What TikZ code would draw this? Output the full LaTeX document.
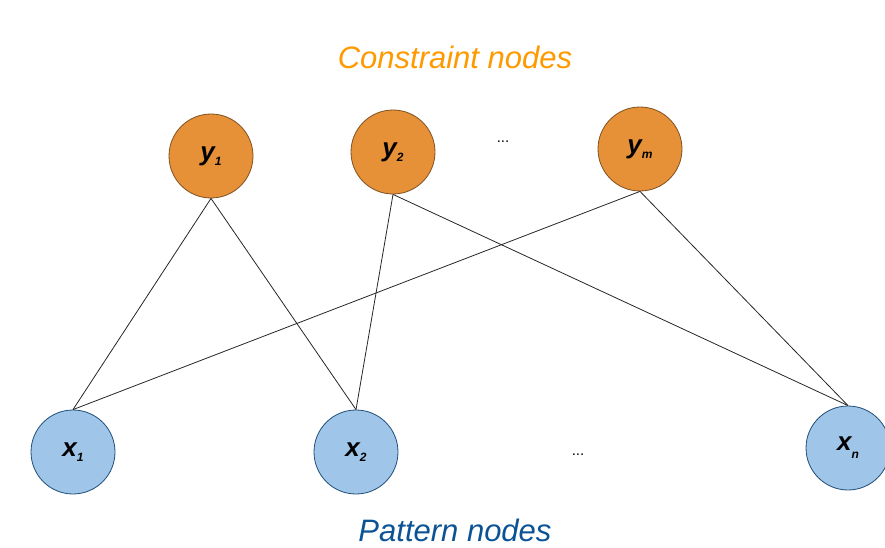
\documentclass[tikz,border=0pt]{standalone}
\usepackage{fontspec}
\setmainfont{Liberation Sans}
\definecolor{cfill}{HTML}{E69138}
\definecolor{cdraw}{HTML}{7F5020}
\definecolor{pfill}{HTML}{9FC5E8}
\definecolor{pdraw}{HTML}{1F4E79}
\definecolor{ctitle}{HTML}{FF9900}
\definecolor{ptitle}{HTML}{0B5394}
\newcommand{\subsc}[2][-5pt]{\raisebox{#1}{\fontsize{12}{12}\selectfont #2}}
\begin{document}
\begin{tikzpicture}[x=1pt,y=-1pt,
  cnode/.style={circle,draw=cdraw,fill=cfill,line width=0.8pt,minimum size=84pt,inner sep=0pt,
    font=\fontsize{26}{28}\selectfont\bfseries\itshape},
  pnode/.style={circle,draw=pdraw,fill=pfill,line width=0.8pt,minimum size=84pt,inner sep=0pt,
    font=\fontsize{26}{28}\selectfont\bfseries\itshape},
  link/.style={draw=black!85,line width=0.8pt},
  title/.style={font=\fontsize{31}{33}\selectfont\itshape,inner sep=1pt,text depth=0pt},
  dots/.style={font=\fontsize{15}{16}\selectfont}]
\useasboundingbox (0,0) rectangle (885,548);
\node[title,text=ctitle] (ct) at (455,57) {Constraint nodes};
\node[title,text=ptitle,anchor=base] (pt) at (455,541) {Pattern nodes};
\node[cnode] (y1) at (211,156) {y\subsc{1}};
\node[cnode] (y2) at (393,152) {y\subsc{2}};
\node[cnode] (ym) at (640,149) {y\subsc{m}};
\node[pnode] (x1) at (73,452) {x\subsc{1}};
\node[pnode] (x2) at (356,452) {x\subsc{2}};
\node[pnode] (xn) at (848,448) {x\subsc[-8pt]{n}};
\node[dots] (d1) at (503,142) {...};
\node[dots] (d2) at (578,455) {...};
\draw[link] (y1.south) -- (x1.north);
\draw[link] (y1.south) -- (x2.north);
\draw[link] (y2.south) -- (x2.north);
\draw[link] (y2.south) -- (xn.north);
\draw[link] (ym.south) -- (x1.north);
\draw[link] (ym.south) -- (xn.north);
\end{tikzpicture}
\end{document}
